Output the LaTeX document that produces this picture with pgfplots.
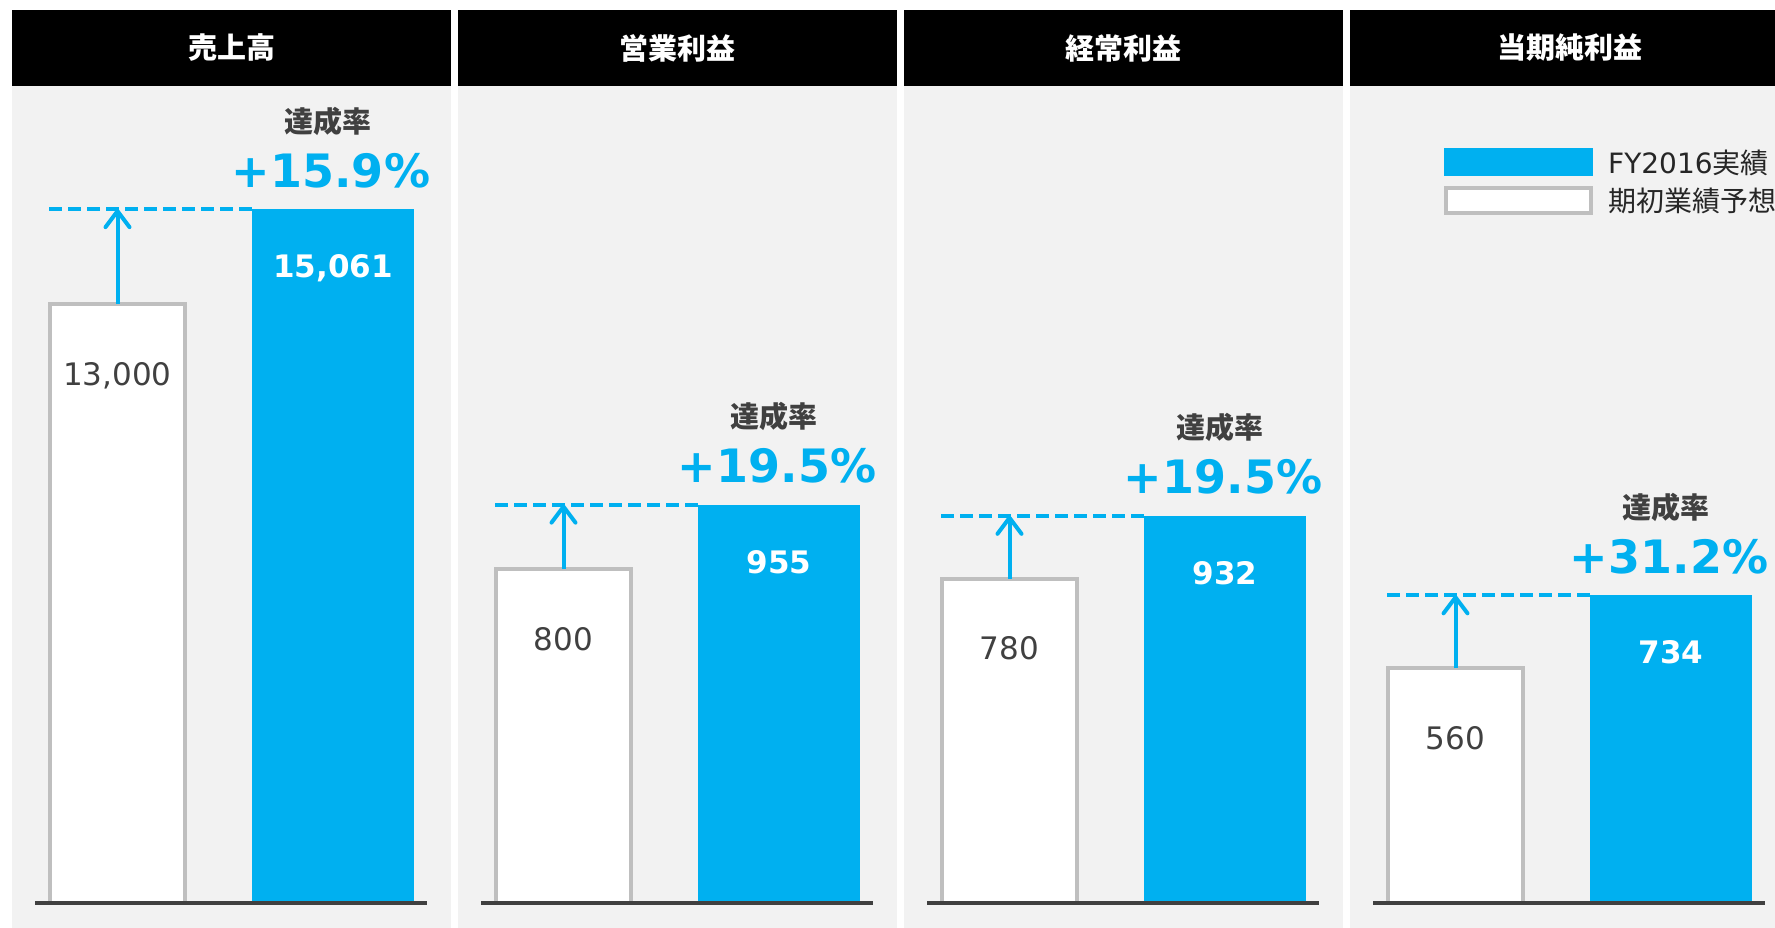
\documentclass[border=0pt]{standalone}
\usepackage{fontspec}
\setmainfont{DejaVu Sans}
\newfontfamily\jp{Noto Sans CJK JP}
\usepackage{pgfplots}
\pgfplotsset{compat=1.18}
\usetikzlibrary{arrows.meta}
\definecolor{bl}{HTML}{00B0F0}
\definecolor{bord}{HTML}{BFBFBF}
\definecolor{bg}{HTML}{F2F2F2}
\definecolor{dk}{HTML}{404040}
\definecolor{lg}{HTML}{262626}

\pgfplotsset{
  panel/.style={
    scale only axis, width=392pt, height=700pt,
    xmin=0, xmax=392, ymin=0,
    hide axis, clip=false, anchor=south west,
  }
}

% #1 white value, #2 blue value, #3 white label, #4 blue label, #5 percent
\newcommand\panelbody[5]{%
  \addplot[ybar, bar width=162pt, bar shift=0pt, fill=bl, draw=none,
    legend image code/.code={\fill[bl] (0pt,-14pt) rectangle (149pt,14pt);}]
    coordinates {(298,#2)};
  \addplot[ybar, bar width=135pt, bar shift=0pt, fill=white, draw=bord, line width=4pt,
    legend image code/.code={\draw[fill=white, draw=bord, line width=4pt] (2pt,-12.5pt) rectangle (147pt,12.5pt);}]
    coordinates {(82.5,#1)};
  \addplot[bl, line width=4pt, dash pattern=on 13pt off 6pt, forget plot]
    coordinates {(14,#2) (217,#2)};
  \addplot[bl, line width=4pt, -{Straight Barb[length=16pt,width=24pt,round]}, forget plot]
    coordinates {(82.5,#1) (82.5,#2)};
  \draw[line width=4pt, dk] (axis cs:0,0) -- (axis cs:392,0);
  \node[font=\fontsize{31pt}{31pt}\selectfont\bfseries, text=white, anchor=base, yshift=-68.5pt]
    at (axis cs:298,#2) {#4};
  \node[font=\fontsize{31pt}{31pt}\selectfont, text=dk, anchor=base, yshift=-81pt]
    at (axis cs:82.5,#1) {#3};
  \node[font=\fontsize{46pt}{46pt}\selectfont\bfseries, text=bl, anchor=base, yshift=22pt]
    at (axis cs:296,#2) {#5};
  \node[font=\jp\fontsize{29pt}{29pt}\selectfont\bfseries, text=dk, yshift=88pt]
    at (axis cs:293,#2) {達成率};
}

\begin{document}
\begin{tikzpicture}
\useasboundingbox (0,0) rectangle (1775pt,928pt);
\fill[white] (0,0) rectangle (1775pt,928pt);
\foreach \ox/\t in {12/売上高,458/営業利益,904/経常利益,1350/当期純利益} {
  \fill[bg] (\ox pt,0pt) rectangle (\ox pt+439pt,842pt);
  \fill[black] (\ox pt,842pt) rectangle (\ox pt+439pt,918pt);
  \node[font=\jp\fontsize{29pt}{29pt}\selectfont\bfseries, text=white] at (\ox pt+219.5pt,880pt) {\t};
}

\begin{axis}[panel, at={(35pt,25pt)}, ymax=15194]
  \panelbody{13000}{15061}{13,000}{15,061}{+15.9\%}
\end{axis}

\begin{axis}[panel, at={(481pt,25pt)}, ymax=1678]
  \panelbody{800}{955}{800}{955}{+19.5\%}
\end{axis}

\begin{axis}[panel, at={(927pt,25pt)}, ymax=1685]
  \panelbody{780}{932}{780}{932}{+19.5\%}
\end{axis}

\begin{axis}[panel, at={(1373pt,25pt)}, ymax=1670,
  legend entries={FY2016{\jp 実績}, {\jp 期初業績予想}},
  legend cell align=left,
  legend style={at={(axis description cs:0.1811,1.0786)}, anchor=north west,
    draw=none, fill=none, inner sep=0pt, row sep=10pt,
    font=\fontsize{28pt}{28pt}\selectfont, text=lg,
    nodes={inner sep=0pt},
    /tikz/every odd column/.append style={column sep=15pt}}]
  \panelbody{560}{734}{560}{734}{+31.2\%}
\end{axis}
\end{tikzpicture}
\end{document}
